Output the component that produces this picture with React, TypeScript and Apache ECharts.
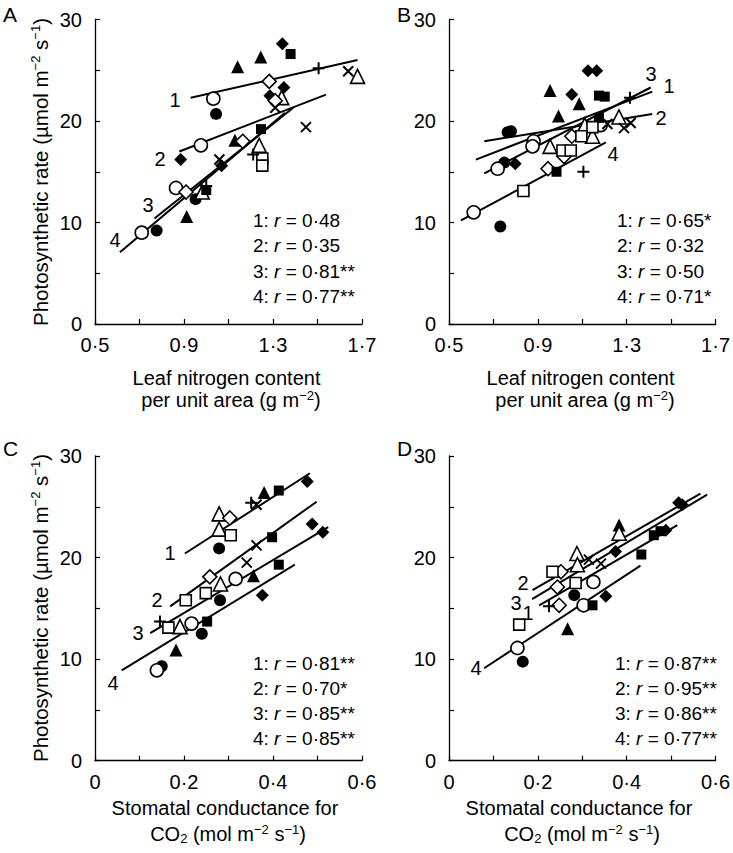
import React, { useEffect, useRef } from 'react';
import * as echarts from 'echarts';

// ---------- Data ----------
// Panel A: leaf N (g m-2) vs photosynthetic rate
const A_circleFilled = [[1.044, 20.7], [0.952, 12.3], [0.777, 9.2]];
const A_circleOpen = [[1.032, 22.2], [0.976, 17.6], [0.864, 13.4], [0.71, 9.0]];
const A_triFilled = [[1.141, 25.35], [1.245, 26.3], [1.129, 18.1], [0.912, 10.6]];
const A_triOpen = [[1.68, 24.4], [1.339, 22.3], [1.238, 17.6], [0.982, 13.0]];
const A_diaFilled = [[1.342, 27.6], [1.286, 22.5], [1.349, 23.3], [0.885, 16.2], [1.069, 15.6]];
const A_diaOpen = [[1.283, 23.9], [1.164, 18.0], [0.909, 13.0], [1.31, 22.0]];
const A_sqFilled = [[1.379, 26.6], [1.246, 19.2], [1.0, 13.2]];
const A_sqOpen = [[1.252, 16.3], [1.252, 15.6]];
const A_plus = [[1.505, 25.2], [1.211, 16.7], [1.0, 13.6]];
const A_cross = [[1.638, 24.9], [1.448, 19.4], [1.059, 16.2], [1.31, 21.3]];

// Panel B
const B_circleFilled = [[0.764, 18.9], [0.779, 19.0], [0.749, 15.9], [0.731, 9.6]];
const B_circleOpen = [[0.881, 18.0], [0.876, 17.5], [1.183, 19.6], [0.719, 15.3], [0.611, 11.0]];
const B_triFilled = [[0.955, 23.0], [1.086, 21.7], [0.993, 20.5]];
const B_triOpen = [[0.955, 17.5], [1.111, 19.6], [1.265, 20.4], [1.146, 18.5]];
const B_diaFilled = [[1.126, 24.96], [1.165, 24.96], [1.053, 22.6], [0.798, 15.8]];
const B_diaOpen = [[1.053, 18.5], [1.018, 16.5], [0.946, 15.3]];
const B_sqFilled = [[1.175, 22.5], [1.201, 22.4], [1.175, 20.3], [0.984, 15.0], [0.831, 13.2]];
const B_sqOpen = [[1.146, 19.4], [1.096, 18.5], [1.011, 17.1], [1.048, 17.1], [0.835, 13.1]];
const B_plus = [[1.315, 22.3], [1.105, 15.0]];
const B_cross = [[1.213, 19.7], [1.288, 19.3], [1.318, 19.8]];

// Panel C: stomatal conductance vs photosynthetic rate
const C_circleFilled = [[0.279, 20.9], [0.281, 15.8], [0.24, 12.5], [0.15, 9.3]];
const C_circleOpen = [[0.316, 17.9], [0.217, 13.5], [0.139, 8.9]];
const C_triFilled = [[0.38, 26.4], [0.356, 18.2], [0.182, 10.9]];
const C_triOpen = [[0.279, 24.3], [0.279, 22.8], [0.282, 17.4], [0.191, 13.2]];
const C_diaFilled = [[0.477, 27.5], [0.488, 23.3], [0.512, 22.5], [0.376, 16.3]];
const C_diaOpen = [[0.303, 23.9], [0.258, 18.1]];
const C_sqFilled = [[0.413, 26.6], [0.398, 22.0], [0.413, 19.3], [0.252, 13.7]];
const C_sqOpen = [[0.305, 22.2], [0.249, 16.5], [0.204, 15.8], [0.165, 13.1]];
const C_plus = [[0.351, 25.4], [0.146, 13.7]];
const C_cross = [[0.363, 25.2], [0.363, 21.2], [0.341, 19.5]];

// Panel D
const D_circleFilled = [[0.282, 16.3], [0.166, 9.75]];
const D_circleOpen = [[0.325, 17.6], [0.303, 15.3], [0.154, 11.1]];
const D_triFilled = [[0.383, 23.2], [0.267, 13.0]];
const D_triOpen = [[0.383, 22.4], [0.288, 20.4], [0.289, 19.3]];
const D_diaFilled = [[0.517, 25.4], [0.525, 25.2], [0.488, 22.7], [0.375, 20.6], [0.353, 16.2]];
const D_diaOpen = [[0.252, 18.6], [0.244, 17.1], [0.248, 15.3]];
const D_sqFilled = [[0.461, 22.2], [0.476, 22.6], [0.433, 20.3], [0.323, 15.3]];
const D_sqOpen = [[0.233, 18.6], [0.285, 17.5], [0.158, 13.4]];
const D_plus = [[0.225, 15.2]];
const D_cross = [[0.315, 19.8], [0.342, 19.4]];

// Regression lines (endpoints)
const A_lines = [
  [[0.93, 22.3], [1.68, 26.0]],
  [[0.879, 17.0], [1.538, 22.6]],
  [[0.767, 10.4], [1.391, 21.3]],
  [[0.612, 7.06], [1.354, 20.8]],
];
const B_lines = [
  [[0.621, 16.2], [1.415, 22.9]],
  [[0.659, 18.0], [1.415, 20.7]],
  [[0.659, 14.85], [1.408, 23.3]],
  [[0.554, 10.2], [1.206, 17.9]],
];
const C_lines = [
  [[0.202, 20.4], [0.483, 28.3]],
  [[0.169, 15.2], [0.498, 25.5]],
  [[0.124, 12.55], [0.524, 23.0]],
  [[0.06, 8.9], [0.449, 19.3]],
];
const D_lines = [
  [[0.203, 15.3], [0.514, 23.2]],
  [[0.188, 16.8], [0.566, 26.3]],
  [[0.187, 15.9], [0.581, 26.2]],
  [[0.079, 9.1], [0.431, 19.2]],
];

// Correlation coefficients
const A_r = ['0·48', '0·35', '0·81**', '0·77**'];
const B_r = ['0·65*', '0·32', '0·50', '0·71*'];
const C_r = ['0·81**', '0·70*', '0·85**', '0·85**'];
const D_r = ['0·87**', '0·95**', '0·86**', '0·77**'];

// Axis ticks / labels
const xTicksN = [0.5, 0.7, 0.9, 1.1, 1.3, 1.5, 1.7];
const xLabelsN = [0.5, 0.9, 1.3, 1.7];
const xTicksG = [0, 0.1, 0.2, 0.3, 0.4, 0.5, 0.6];
const xLabelsG = [0, 0.2, 0.4, 0.6];
const yTicks = [0, 5, 10, 15, 20, 25, 30];
const yLabels = [0, 10, 20, 30];

// ---------- Layout ----------
const FONT = '"Liberation Sans", Arial, Helvetica, sans-serif';
const FS = 20;
const FS_ANN = 19;
const grids = [
  { left: 95, top: 19.5, width: 267, height: 304.5 },
  { left: 449, top: 19.5, width: 269, height: 304.5 },
  { left: 95, top: 456, width: 267, height: 304.7 },
  { left: 449, top: 456, width: 269, height: 304.7 },
];

const PLUS = 'path://M0,6L12,6M6,0L6,12';
const CROSS = 'path://M0,0L10,10M10,0L0,10';

const openStyle = { color: '#fff', borderColor: '#000', borderWidth: 1.6, opacity: 1 };
const markerDefs: Record<string, any> = {
  circleFilled: { symbol: 'circle', size: 12, itemStyle: { color: '#000', opacity: 1 } },
  circleOpen: { symbol: 'circle', size: 13, itemStyle: openStyle },
  triFilled: { symbol: 'triangle', size: 13, itemStyle: { color: '#000', opacity: 1 } },
  triOpen: { symbol: 'triangle', size: 14, itemStyle: openStyle },
  diaFilled: { symbol: 'diamond', size: 13, itemStyle: { color: '#000', opacity: 1 } },
  diaOpen: { symbol: 'diamond', size: 14, itemStyle: openStyle },
  sqFilled: { symbol: 'rect', size: 10, itemStyle: { color: '#000', opacity: 1 } },
  sqOpen: { symbol: 'rect', size: 11, itemStyle: openStyle },
  plus: { symbol: PLUS, size: 12, itemStyle: { color: '#000', borderColor: '#000', borderWidth: 2, opacity: 1 } },
  cross: { symbol: CROSS, size: 10, itemStyle: { color: '#000', borderColor: '#000', borderWidth: 2, opacity: 1 } },
};

const panelData = [
  { circleFilled: A_circleFilled, circleOpen: A_circleOpen, triFilled: A_triFilled, triOpen: A_triOpen, diaFilled: A_diaFilled, diaOpen: A_diaOpen, sqFilled: A_sqFilled, sqOpen: A_sqOpen, plus: A_plus, cross: A_cross },
  { circleFilled: B_circleFilled, circleOpen: B_circleOpen, triFilled: B_triFilled, triOpen: B_triOpen, diaFilled: B_diaFilled, diaOpen: B_diaOpen, sqFilled: B_sqFilled, sqOpen: B_sqOpen, plus: B_plus, cross: B_cross },
  { circleFilled: C_circleFilled, circleOpen: C_circleOpen, triFilled: C_triFilled, triOpen: C_triOpen, diaFilled: C_diaFilled, diaOpen: C_diaOpen, sqFilled: C_sqFilled, sqOpen: C_sqOpen, plus: C_plus, cross: C_cross },
  { circleFilled: D_circleFilled, circleOpen: D_circleOpen, triFilled: D_triFilled, triOpen: D_triOpen, diaFilled: D_diaFilled, diaOpen: D_diaOpen, sqFilled: D_sqFilled, sqOpen: D_sqOpen, plus: D_plus, cross: D_cross },
];
const panelLines = [A_lines, B_lines, C_lines, D_lines];
const panelR = [A_r, B_r, C_r, D_r];

// line-number label pixel anchors
const lineLabelPx = [
  [[175, 100], [160, 159], [148, 205], [115, 240]],
  [[669, 86], [661, 118], [651, 74], [613, 154]],
  [[170, 553], [157, 600], [138, 633], [113, 683]],
  [[528, 613], [523, 583], [516, 603], [476, 668]],
];
const rTextPx = [
  { x: 253, y: 220, dy: 25.5 },
  { x: 617, y: 220, dy: 25.5 },
  { x: 253, y: 663, dy: 25 },
  { x: 615, y: 663, dy: 25 },
];

const fmt = (v: number) => String(+Number(v).toFixed(2)).replace('.', '·');

export default function App() {
  const ref = useRef<HTMLDivElement>(null);
  useEffect(() => {
    document.body.style.margin = '0';
    const chart = echarts.init(ref.current!, undefined, { renderer: 'svg' });

    const xAxis = grids.map((_, i) => {
      const n = i < 2;
      return {
        gridIndex: i,
        type: 'value',
        min: n ? 0.5 : 0,
        max: n ? 1.7 : 0.6,
        axisLine: { show: true, lineStyle: { color: '#000', width: 1.3 } },
        axisTick: { show: true, inside: true, length: 5, lineStyle: { color: '#000', width: 1.2 }, customValues: n ? xTicksN : xTicksG },
        axisLabel: { customValues: n ? xLabelsN : xLabelsG, formatter: fmt, fontSize: FS, color: '#000', fontFamily: FONT, margin: 11 },
        splitLine: { show: false },
      };
    });
    const yAxis = grids.map((_, i) => ({
      gridIndex: i,
      type: 'value',
      min: 0,
      max: 30,
      axisLine: { show: true, lineStyle: { color: '#000', width: 1.3 } },
      axisTick: { show: true, inside: true, length: 5, lineStyle: { color: '#000', width: 1.2 }, customValues: yTicks },
      axisLabel: { customValues: yLabels, formatter: fmt, fontSize: FS, color: '#000', fontFamily: FONT, margin: 13 },
      splitLine: { show: false },
    }));

    const series: any[] = [];
    panelLines.forEach((lines, p) => {
      lines.forEach((ln) => {
        series.push({
          type: 'line', xAxisIndex: p, yAxisIndex: p, data: ln, symbol: 'none', silent: true,
          lineStyle: { color: '#000', width: 2 }, z: 1,
        });
      });
    });
    panelData.forEach((pd: any, p) => {
      Object.keys(markerDefs).forEach((k) => {
        const m = markerDefs[k];
        series.push({
          type: 'scatter', xAxisIndex: p, yAxisIndex: p, data: pd[k],
          symbol: m.symbol, symbolSize: m.size, itemStyle: m.itemStyle, z: 3,
        });
      });
    });

    const graphic: any[] = [];
    const txt = (x: number, y: number, text: string, extra: any = {}) => ({
      type: 'text', x, y,
      style: { text, fontSize: FS, fontFamily: FONT, fill: '#000', textAlign: 'left', textVerticalAlign: 'middle', lineHeight: 20, ...extra },
    });
    // panel letters
    graphic.push(txt(3, 14, 'A', { fontSize: 21 }));
    graphic.push(txt(397, 14, 'B', { fontSize: 21 }));
    graphic.push(txt(3, 448, 'C', { fontSize: 21 }));
    graphic.push(txt(397, 448, 'D', { fontSize: 21 }));

    const rich = {
      sup: { fontSize: 13, lineHeight: 10, verticalAlign: 'top', fontFamily: FONT, fill: '#000' },
      sub: { fontSize: 13, lineHeight: 14, verticalAlign: 'bottom', fontFamily: FONT, fill: '#000' },
      i: { fontStyle: 'italic', fontSize: FS_ANN, fontFamily: FONT, fill: '#000' },
    };
    // y titles
    [172, 608].forEach((cy) => {
      graphic.push({
        type: 'text', x: 40, y: cy, rotation: Math.PI / 2,
        style: {
          text: 'Photosynthetic rate (µmol m{sup|−2} s{sup|−1})', fontSize: 20.5, fontFamily: FONT, fill: '#000',
          textAlign: 'center', textVerticalAlign: 'middle', lineHeight: 22, rich,
        },
      });
    });
    // x titles
    [0, 354].forEach((dx) => {
      graphic.push(txt(226.5 + dx, 378, 'Leaf nitrogen content', { textAlign: 'center' }));
      graphic.push(txt(231 + dx, 400, 'per unit area (g m{sup|−2})', { textAlign: 'center', lineHeight: 22, rich }));
      graphic.push(txt(225 + dx, 808, 'Stomatal conductance for', { textAlign: 'center' }));
      graphic.push(txt(228 + dx, 834, 'CO{sub|2} (mol m{sup|−2} s{sup|−1})', { textAlign: 'center', lineHeight: 22, rich }));
    });
    // line number labels
    lineLabelPx.forEach((arr) => {
      arr.forEach((pt, k) => {
        graphic.push(txt(pt[0], pt[1], String(k + 1), { textAlign: 'center' }));
      });
    });
    // r annotations
    panelR.forEach((rs, p) => {
      const pos = rTextPx[p];
      rs.forEach((r, k) => {
        graphic.push(txt(pos.x, pos.y + k * pos.dy, `${k + 1}: {i|r} = ${r}`, { fontSize: FS_ANN, rich }));
      });
    });

    chart.setOption({
      animation: false,
      backgroundColor: '#fff',
      grid: grids,
      xAxis,
      yAxis,
      series,
      graphic,
    });
    return () => chart.dispose();
  }, []);
  return <div ref={ref} style={{ width: 733, height: 853 }} />;
}
